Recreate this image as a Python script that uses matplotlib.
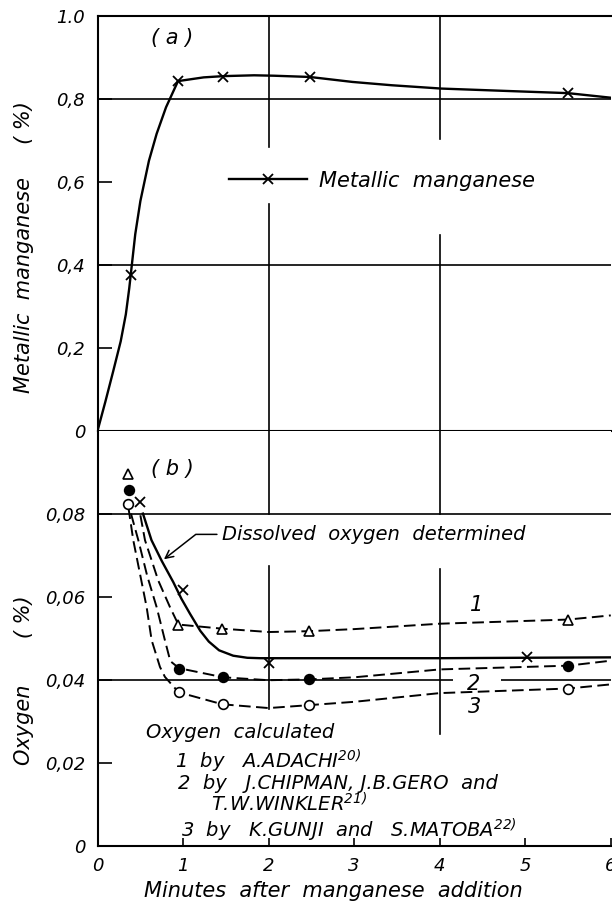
import matplotlib
matplotlib.use("Agg")
import matplotlib.pyplot as plt
from matplotlib.lines import Line2D

plt.rcParams['font.family'] = 'DejaVu Sans'
plt.rcParams['font.style'] = 'italic'
plt.rcParams['mathtext.default'] = 'it'

mn_curve_x = [0, 0.09, 0.18, 0.27, 0.33, 0.37, 0.44, 0.50, 0.60, 0.69, 0.80, 0.94, 1.24, 1.47,
              1.83, 2.06, 2.48, 2.98, 3.44, 4.02, 4.82, 5.50, 6.0]
mn_curve_y = [0, 0.069, 0.141, 0.215, 0.280, 0.343, 0.473, 0.553, 0.650, 0.715, 0.779, 0.842,
              0.851, 0.854, 0.856, 0.855, 0.852, 0.840, 0.832, 0.824, 0.818, 0.813, 0.802]
mn_pts_x = [0.39, 0.94, 1.47, 2.48, 5.50]
mn_pts_y = [0.374, 0.842, 0.853, 0.851, 0.814]

# (b) oxygen
# dissolved oxygen determined (solid, x)
do_curve_x = [0.53, 0.63, 0.75, 0.885, 0.98, 1.08, 1.20, 1.30, 1.42, 1.585, 1.75, 1.9, 2.2, 3.0,
              4.0, 4.95, 6.0]
do_curve_y = [0.080, 0.0736, 0.0686, 0.0635, 0.0595, 0.0559, 0.0518, 0.0492, 0.0471, 0.0458,
              0.0453, 0.0452, 0.0452, 0.0452, 0.0452, 0.0453, 0.0454]
do_pts_x = [0.49, 0.994, 2.0, 5.02]
do_pts_y = [0.0828, 0.0617, 0.0440, 0.0456]

# 1 by Adachi (dashed, triangles)
c1_curve_x = [0.50, 0.554, 0.709, 0.846, 0.944, 1.46, 2.0, 2.47, 3.0, 4.0, 5.5, 6.0]
c1_curve_y = [0.0796, 0.0736, 0.0639, 0.0575, 0.0533, 0.0523, 0.0515, 0.0517, 0.0522, 0.0535,
              0.0545, 0.0555]
c1_pts_x = [0.36, 0.944, 1.459, 2.471, 5.50]
c1_pts_y = [0.0896, 0.0533, 0.0523, 0.0517, 0.0545]

# 2 by Chipman, Gero and Winkler (dashed, filled circles)
c2_curve_x = [0.39, 0.476, 0.58, 0.69, 0.787, 0.85, 0.951, 1.47, 2.0, 2.47, 3.0, 4.0, 5.5, 6.0]
c2_curve_y = [0.080, 0.0736, 0.065, 0.0575, 0.0495, 0.0445, 0.0428, 0.0406, 0.0399, 0.0401,
              0.0406, 0.0425, 0.0434, 0.0446]
c2_pts_x = [0.37, 0.956, 1.47, 2.466, 5.50]
c2_pts_y = [0.0858, 0.0426, 0.0407, 0.0402, 0.0433]

# 3 by Gunji and Matoba (dashed, open circles)
c3_curve_x = [0.36, 0.417, 0.573, 0.632, 0.729, 0.787, 0.947, 1.46, 2.0, 2.47, 3.0, 4.0, 5.5, 6.0]
c3_curve_y = [0.0815, 0.0736, 0.0575, 0.0495, 0.0431, 0.0407, 0.0370, 0.0341, 0.0332, 0.0339,
              0.0347, 0.0368, 0.0379, 0.0389]
c3_pts_x = [0.36, 0.947, 1.464, 2.471, 5.50]
c3_pts_y = [0.0822, 0.0370, 0.0341, 0.0340, 0.0378]

top_ticks = [0, 0.2, 0.4, 0.6, 0.8, 1.0]
top_labels = ['0', '0,2', '0,4', '0,6', '0,8', '1.0']
bot_ticks = [0, 0.02, 0.04, 0.06, 0.08]
bot_labels = ['0', '0,02', '0,04', '0,06', '0,08']
x_ticks = [0, 1, 2, 3, 4, 5, 6]
x_labels = ['0', '1', '2', '3', '4', '5', '6']

fig = plt.figure(figsize=(6.12, 9.09), dpi=100)
ax1 = fig.add_axes([0.1595, 0.5264, 0.8385, 0.4565])
ax2 = fig.add_axes([0.1595, 0.0693, 0.8385, 0.4571])

dash = (6, 2.8)
glw = 1.2

# ---- panel (a)
ax1.set_xlim(0, 6)
ax1.set_ylim(0, 1.0)
ax1.axhline(0.8, color='k', lw=glw)
ax1.axhline(0.4, color='k', lw=glw)
ax1.axvline(2, ymin=0, ymax=0.545, color='k', lw=glw)
ax1.axvline(2, ymin=0.683, ymax=1, color='k', lw=glw)
ax1.axvline(4, ymin=0, ymax=0.472, color='k', lw=glw)
ax1.axvline(4, ymin=0.703, ymax=1, color='k', lw=glw)
ax1.plot(mn_curve_x, mn_curve_y, 'k-', lw=1.7)
ax1.plot(mn_pts_x, mn_pts_y, 'kx', ms=7, mew=1.3)
ax1.set_yticks(top_ticks)
ax1.set_yticklabels(top_labels)
ax1.set_xticks([])
ax1.tick_params(axis='y', direction='in', length=10, width=1.2, labelsize=13, pad=9)
ax1.spines['right'].set_visible(False)
for s in ['left', 'top', 'bottom']:
    ax1.spines[s].set_linewidth(1.5)
ax1.text(0.87, 0.945, '( a )', fontsize=15, ha='center', va='center')
ax1.text(-0.143, 0.442, 'Metallic  manganese     ( %)', rotation=90, fontsize=15,
         ha='center', va='center', transform=ax1.transAxes)
h = Line2D([], [], color='k', lw=1.7, marker='x', ms=7, mew=1.3)
ax1.legend([h], ['Metallic  manganese'], loc='center left', bbox_to_anchor=(0.257, 0.602),
           frameon=False, fontsize=15, handlelength=3.7, handletextpad=0.6, borderpad=0,
           borderaxespad=0, numpoints=1)

# ---- panel (b)
ax2.set_xlim(0, 6)
ax2.set_ylim(0, 0.1)
ax2.axhline(0.08, color='k', lw=glw)
ax2.hlines(0.04, 0, 4.15, color='k', lw=glw)
ax2.hlines(0.04, 4.72, 6, color='k', lw=glw)
ax2.axvline(2, ymin=0.8, ymax=1, color='k', lw=glw)
ax2.axvline(2, ymin=0.33, ymax=0.674, color='k', lw=glw)
ax2.axvline(4, ymin=0.8, ymax=1, color='k', lw=glw)
ax2.axvline(4, ymin=0.27, ymax=0.666, color='k', lw=glw)

ax2.plot(do_curve_x, do_curve_y, 'k-', lw=1.7)
for cx, cy in [(c1_curve_x, c1_curve_y), (c2_curve_x, c2_curve_y), (c3_curve_x, c3_curve_y)]:
    ax2.plot(cx, cy, color='k', lw=1.4, dashes=dash)
ax2.plot(do_pts_x, do_pts_y, 'kx', ms=7, mew=1.3, zorder=5)
ax2.plot(c1_pts_x, c1_pts_y, '^', color='k', mfc='white', ms=7, mew=1.2, zorder=5)
ax2.plot(c2_pts_x, c2_pts_y, 'o', color='k', mfc='k', ms=7, mew=1.2, zorder=5)
ax2.plot(c3_pts_x, c3_pts_y, 'o', color='k', mfc='white', ms=7, mew=1.2, zorder=5)

ax2.set_yticks(bot_ticks)
ax2.set_yticklabels(bot_labels)
ax2.set_xticks(x_ticks)
ax2.set_xticklabels(x_labels)
ax2.tick_params(axis='y', direction='in', length=10, width=1.2, labelsize=13, pad=9)
ax2.tick_params(axis='x', direction='in', length=6, width=1.2, labelsize=13, pad=8)
ax2.spines['right'].set_visible(False)
ax2.spines['top'].set_visible(False)
for s in ['left', 'bottom']:
    ax2.spines[s].set_linewidth(1.5)
ax2.set_xlabel('Minutes  after  manganese  addition', fontsize=15, labelpad=6)
ax2.xaxis.set_label_coords(0.46, -0.085)
ax2.text(-0.143, 0.40, 'Oxygen       ( %)', rotation=90, fontsize=15,
         ha='center', va='center', transform=ax2.transAxes)
ax2.text(0.87, 0.0907, '( b )', fontsize=15, ha='center', va='center')

ax2.annotate('Dissolved  oxygen  determined', xy=(0.75, 0.0686), xytext=(1.46, 0.075),
             fontsize=14, va='center',
             arrowprops=dict(arrowstyle='->', color='k', lw=1.1,
                             connectionstyle='angle,angleA=180,angleB=38,rad=0'))
ax2.text(4.43, 0.058, '1', fontsize=15, ha='center', va='center')
ax2.text(4.39, 0.039, '2', fontsize=15, ha='center', va='center')
ax2.text(4.41, 0.0335, '3', fontsize=15, ha='center', va='center')

ax2.text(0.57, 0.0272, 'Oxygen  calculated', fontsize=14, va='center')
ax2.text(0.91, 0.0203, '1  by   A.ADACHI$^{20)}$', fontsize=14, va='center')
ax2.text(0.94, 0.0150, '2  by   J.CHIPMAN, J.B.GERO  and', fontsize=14, va='center')
ax2.text(1.32, 0.0102, 'T.W.WINKLER$^{21)}$', fontsize=14, va='center')
ax2.text(0.98, 0.0038, '3  by   K.GUNJI  and   S.MATOBA$^{22)}$', fontsize=14, va='center')

fig.savefig('out.png', dpi=100)
